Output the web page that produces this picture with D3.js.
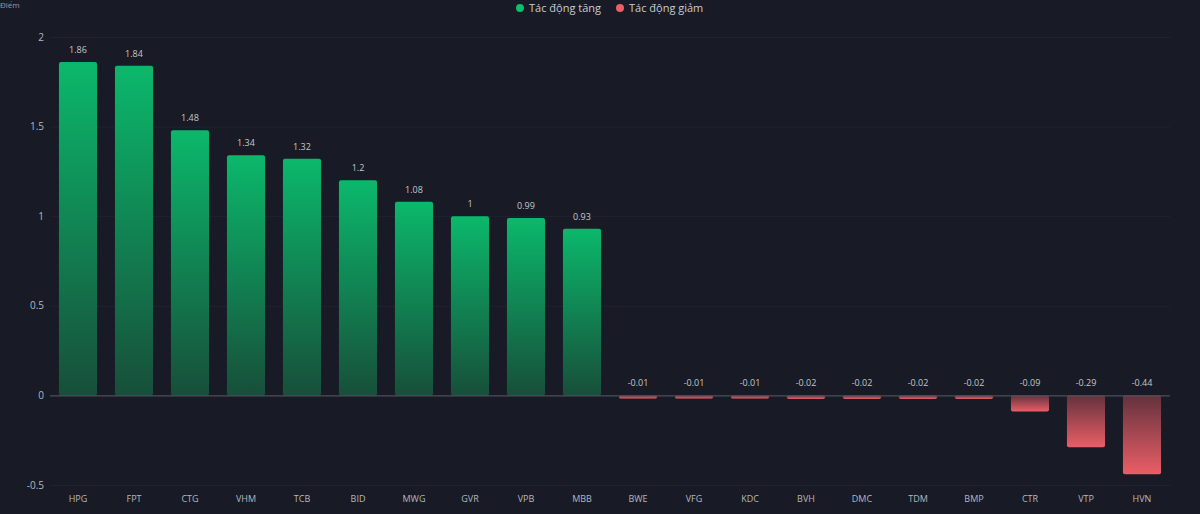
<!DOCTYPE html>
<html>
<head>
<meta charset="utf-8">
<script src="https://cdn.jsdelivr.net/npm/d3@7"></script>
<style>
  html, body { margin: 0; padding: 0; background: #181b25; }
  body { width: 1200px; height: 514px; overflow: hidden; font-family: "Open Sans", "Noto Sans", sans-serif; }
</style>
</head>
<body>
<div id="chart"></div>
<script>
// data
var tickers = ["HPG", "FPT", "CTG", "VHM", "TCB", "BID", "MWG", "GVR", "VPB", "MBB",
               "BWE", "VFG", "KDC", "BVH", "DMC", "TDM", "BMP", "CTR", "VTP", "HVN"];
var impact = [1.86, 1.84, 1.48, 1.34, 1.32, 1.2, 1.08, 1, 0.99, 0.93,
              -0.01, -0.01, -0.01, -0.02, -0.02, -0.02, -0.02, -0.09, -0.29, -0.44];
var yTicks = [-0.5, 0, 0.5, 1, 1.5, 2];
var legendNames = ["Tác động tăng", "Tác động giảm"];

var svg = d3.select("#chart").append("svg").attr("width", 1200).attr("height", 514),
    plotLeft = 50, plotRight = 1170, plotTop = 37, plotBottom = 485;

var defs = svg.append("defs");
var gUp = defs.append("linearGradient").attr("id", "up").attr("x1", 0).attr("y1", 0).attr("x2", 0).attr("y2", 1);
gUp.append("stop").attr("offset", "0%").attr("stop-color", "#0bb86b");
gUp.append("stop").attr("offset", "100%").attr("stop-color", "#174f3a");
var gDown = defs.append("linearGradient").attr("id", "down").attr("x1", 0).attr("y1", 0).attr("x2", 0).attr("y2", 1);
gDown.append("stop").attr("offset", "0%").attr("stop-color", "#63323d");
gDown.append("stop").attr("offset", "100%").attr("stop-color", "#ea5e67");

var x = d3.scaleBand().domain(tickers).range([plotLeft, plotRight]).paddingInner(0.32).paddingOuter(0.16);
var y = d3.scaleLinear().domain([-0.5, 2]).range([plotBottom, plotTop]);

// grid
svg.append("g").selectAll("line").data(yTicks.filter(function(d) { return d !== 0; })).enter().append("line")
    .attr("x1", plotLeft).attr("x2", plotRight)
    .attr("y1", function(d) { return y(d) + 0.5; }).attr("y2", function(d) { return y(d) + 0.5; })
    .style("stroke", "#1f2330").style("stroke-width", 1);

// y labels
svg.append("g").selectAll("text").data(yTicks).enter().append("text")
    .attr("x", 44).attr("y", function(d) { return y(d); })
    .attr("dy", "0.35em").attr("text-anchor", "end")
    .style("font-size", "10px").style("fill", "#b4b7bf")
    .text(function(d) { return d; });

svg.append("text").attr("x", 0).attr("y", 8).style("font-size", "8px").style("fill", "#9a9ca4").text("Điểm");

// bars
var bars = tickers.map(function(t, i) { return {t: t, v: impact[i]}; });
svg.append("g").selectAll("rect").data(bars).enter().append("rect")
    .attr("x", function(d) { return x(d.t); })
    .attr("width", x.bandwidth())
    .attr("y", function(d) { return d.v >= 0 ? y(d.v) : y(0); })
    .attr("height", function(d) { return Math.max(3, Math.abs(y(d.v) - y(0))); })
    .attr("rx", 2)
    .style("fill", function(d) { return d.v >= 0 ? "url(#up)" : "url(#down)"; });

// zero line
svg.append("line").attr("x1", plotLeft).attr("x2", plotRight).attr("y1", y(0) + 0.5).attr("y2", y(0) + 0.5)
    .style("stroke", "#5a5d66").style("stroke-width", 1);

// value labels
svg.append("g").selectAll("text").data(bars).enter().append("text")
    .attr("x", function(d) { return x(d.t) + x.bandwidth() / 2; })
    .attr("y", function(d) { return d.v >= 0 ? y(d.v) - 9 : y(0) - 9; })
    .attr("text-anchor", "middle")
    .style("font-size", "9px").style("fill", "#c4c6cc")
    .text(function(d) { return d.v; });

// x labels
svg.append("g").selectAll("text").data(tickers).enter().append("text")
    .attr("x", function(d) { return x(d) + x.bandwidth() / 2; })
    .attr("y", 502).attr("text-anchor", "middle")
    .style("font-size", "9px").style("fill", "#b4b7bf")
    .text(function(d) { return d; });

// legend
var legendColors = ["#0bbf6c", "#ea5e67"];
var lg = svg.append("g").selectAll("g").data(legendNames).enter().append("g")
    .attr("transform", function(d, i) { return "translate(" + (520 + i * 100) + ",8)"; });
lg.append("circle").attr("r", 4).attr("cx", 0).attr("cy", 0).style("fill", function(d, i) { return legendColors[i]; });
lg.append("text").attr("x", 9).attr("dy", "0.35em").style("font-size", "11px").style("fill", "#c9cbd1")
    .text(function(d) { return d; });
</script>
</body>
</html>
